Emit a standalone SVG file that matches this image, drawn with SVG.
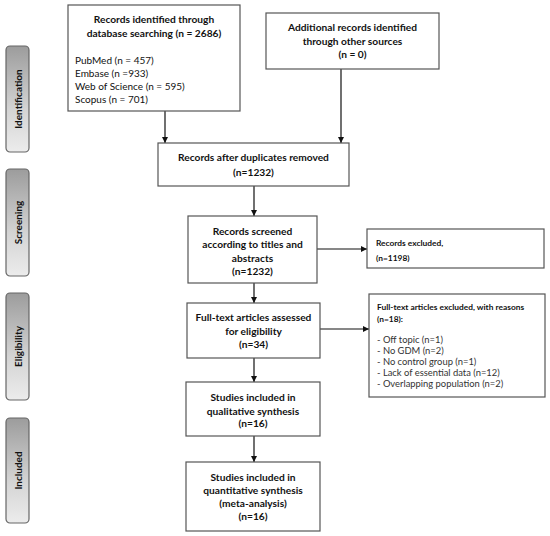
<svg xmlns="http://www.w3.org/2000/svg" width="550" height="536" viewBox="0 0 550 536">
<defs>
<linearGradient id="g" x1="0" y1="0" x2="0" y2="1">
<stop offset="0" stop-color="#9c9c9c"/>
<stop offset="0.6" stop-color="#d4d4d4"/>
<stop offset="1" stop-color="#ececec"/>
</linearGradient>
<marker id="ah" viewBox="0 0 10 10" refX="10" refY="5" markerWidth="6" markerHeight="6" orient="auto" markerUnits="userSpaceOnUse">
<path d="M0,0 L10,5 L0,10 z" fill="#111"/>
</marker>
<style>
.box{fill:#fff;stroke:#555;stroke-width:1.2}
.side{fill:url(#g);stroke:#666;stroke-width:1.2}
.t{font-family:Lato,"Liberation Sans",sans-serif;fill:#111}
.b{font-weight:bold;font-size:10.2px;text-anchor:middle}
.s{font-weight:bold;font-size:10px;text-anchor:middle}
.sb{font-weight:bold;font-size:8.4px}
.r{font-size:10px}
.rs{font-size:9.4px;fill:#333}
.c{stroke:#111;stroke-width:1.2;fill:none;marker-end:url(#ah)}
</style>
</defs>
<rect width="550" height="536" fill="#fff"/>

<g id="stage-identification">
<rect class="side" x="6" y="46" width="23" height="106" rx="4"/>
<text class="t s" transform="translate(22,99) rotate(-90)">Identification</text>
</g>
<g id="stage-screening">
<rect class="side" x="6" y="169" width="23" height="107" rx="4"/>
<text class="t s" transform="translate(22,222.5) rotate(-90)">Screening</text>
</g>
<g id="stage-eligibility">
<rect class="side" x="6" y="293" width="23" height="107" rx="4"/>
<text class="t s" transform="translate(22,346.5) rotate(-90)">Eligibility</text>
</g>
<g id="stage-included">
<rect class="side" x="6" y="418" width="23" height="105" rx="4"/>
<text class="t s" transform="translate(22,470.5) rotate(-90)">Included</text>
</g>

<g id="connectors">
<line class="c" x1="165" y1="111" x2="165" y2="143"/>
<line class="c" x1="341" y1="69" x2="341" y2="143"/>
<line class="c" x1="254" y1="186" x2="254" y2="216"/>
<line class="c" x1="317" y1="249" x2="367" y2="249"/>
<line class="c" x1="254" y1="283" x2="254" y2="303"/>
<line class="c" x1="320" y1="329" x2="369" y2="329"/>
<line class="c" x1="254" y1="358" x2="254" y2="382"/>
<line class="c" x1="254" y1="436" x2="254" y2="462"/>
</g>

<g id="n-database">
<rect class="box" x="68" y="5" width="172" height="106"/>
<text class="t b" x="154" y="23">Records identified through</text>
<text class="t b" x="154" y="37">database searching (n = 2686)</text>
<text class="t r" x="75" y="64">PubMed (n = 457)</text>
<text class="t r" x="75" y="77">Embase (n =933)</text>
<text class="t r" x="75" y="89.5">Web of Science (n = 595)</text>
<text class="t r" x="75" y="103">Scopus (n = 701)</text>
</g>

<g id="n-other">
<rect class="box" x="266" y="13" width="173" height="56"/>
<text class="t b" x="352.5" y="31">Additional records identified</text>
<text class="t b" x="352.5" y="45">through other sources</text>
<text class="t b" x="352.5" y="58">(n = 0)</text>
</g>

<g id="n-dedup">
<rect class="box" x="158" y="143" width="191" height="43"/>
<text class="t b" x="253.5" y="161">Records after duplicates removed</text>
<text class="t b" x="253.5" y="176">(n=1232)</text>
</g>

<g id="n-screened">
<rect class="box" x="188" y="216" width="129" height="67"/>
<text class="t b" x="252.5" y="235">Records screened</text>
<text class="t b" x="252.5" y="248">according to titles and</text>
<text class="t b" x="252.5" y="262">abstracts</text>
<text class="t b" x="252.5" y="275">(n=1232)</text>
</g>

<g id="n-excluded">
<rect class="box" x="367" y="229" width="177" height="39"/>
<text class="t sb" x="376" y="246">Records excluded,</text>
<text class="t sb" x="376" y="261">(n=1198)</text>
</g>

<g id="n-fulltext">
<rect class="box" x="187" y="303" width="133" height="55"/>
<text class="t b" x="253.5" y="321">Full-text articles assessed</text>
<text class="t b" x="253.5" y="335">for eligibility</text>
<text class="t b" x="253.5" y="348">(n=34)</text>
</g>

<g id="n-ftexcluded">
<rect class="box" x="369" y="294" width="176" height="103"/>
<text class="t sb" x="377" y="310">Full-text articles excluded, with reasons</text>
<text class="t sb" x="377" y="322">(n=18):</text>
<text class="t rs" x="377" y="342.5">- Off topic (n=1)</text>
<text class="t rs" x="377" y="353.5">- No GDM (n=2)</text>
<text class="t rs" x="377" y="364.5">- No control group (n=1)</text>
<text class="t rs" x="377" y="375.5">- Lack of essential data (n=12)</text>
<text class="t rs" x="377" y="386.5">- Overlapping population (n=2)</text>
</g>

<g id="n-qualitative">
<rect class="box" x="186" y="382" width="134" height="54"/>
<text class="t b" x="253" y="401">Studies included in</text>
<text class="t b" x="253" y="415">qualitative synthesis</text>
<text class="t b" x="253" y="427">(n=16)</text>
</g>

<g id="n-quantitative">
<rect class="box" x="186" y="462" width="134" height="69"/>
<text class="t b" x="253" y="481">Studies included in</text>
<text class="t b" x="253" y="494">quantitative synthesis</text>
<text class="t b" x="253" y="507">(meta-analysis)</text>
<text class="t b" x="253" y="520">(n=16)</text>
</g>
</svg>
